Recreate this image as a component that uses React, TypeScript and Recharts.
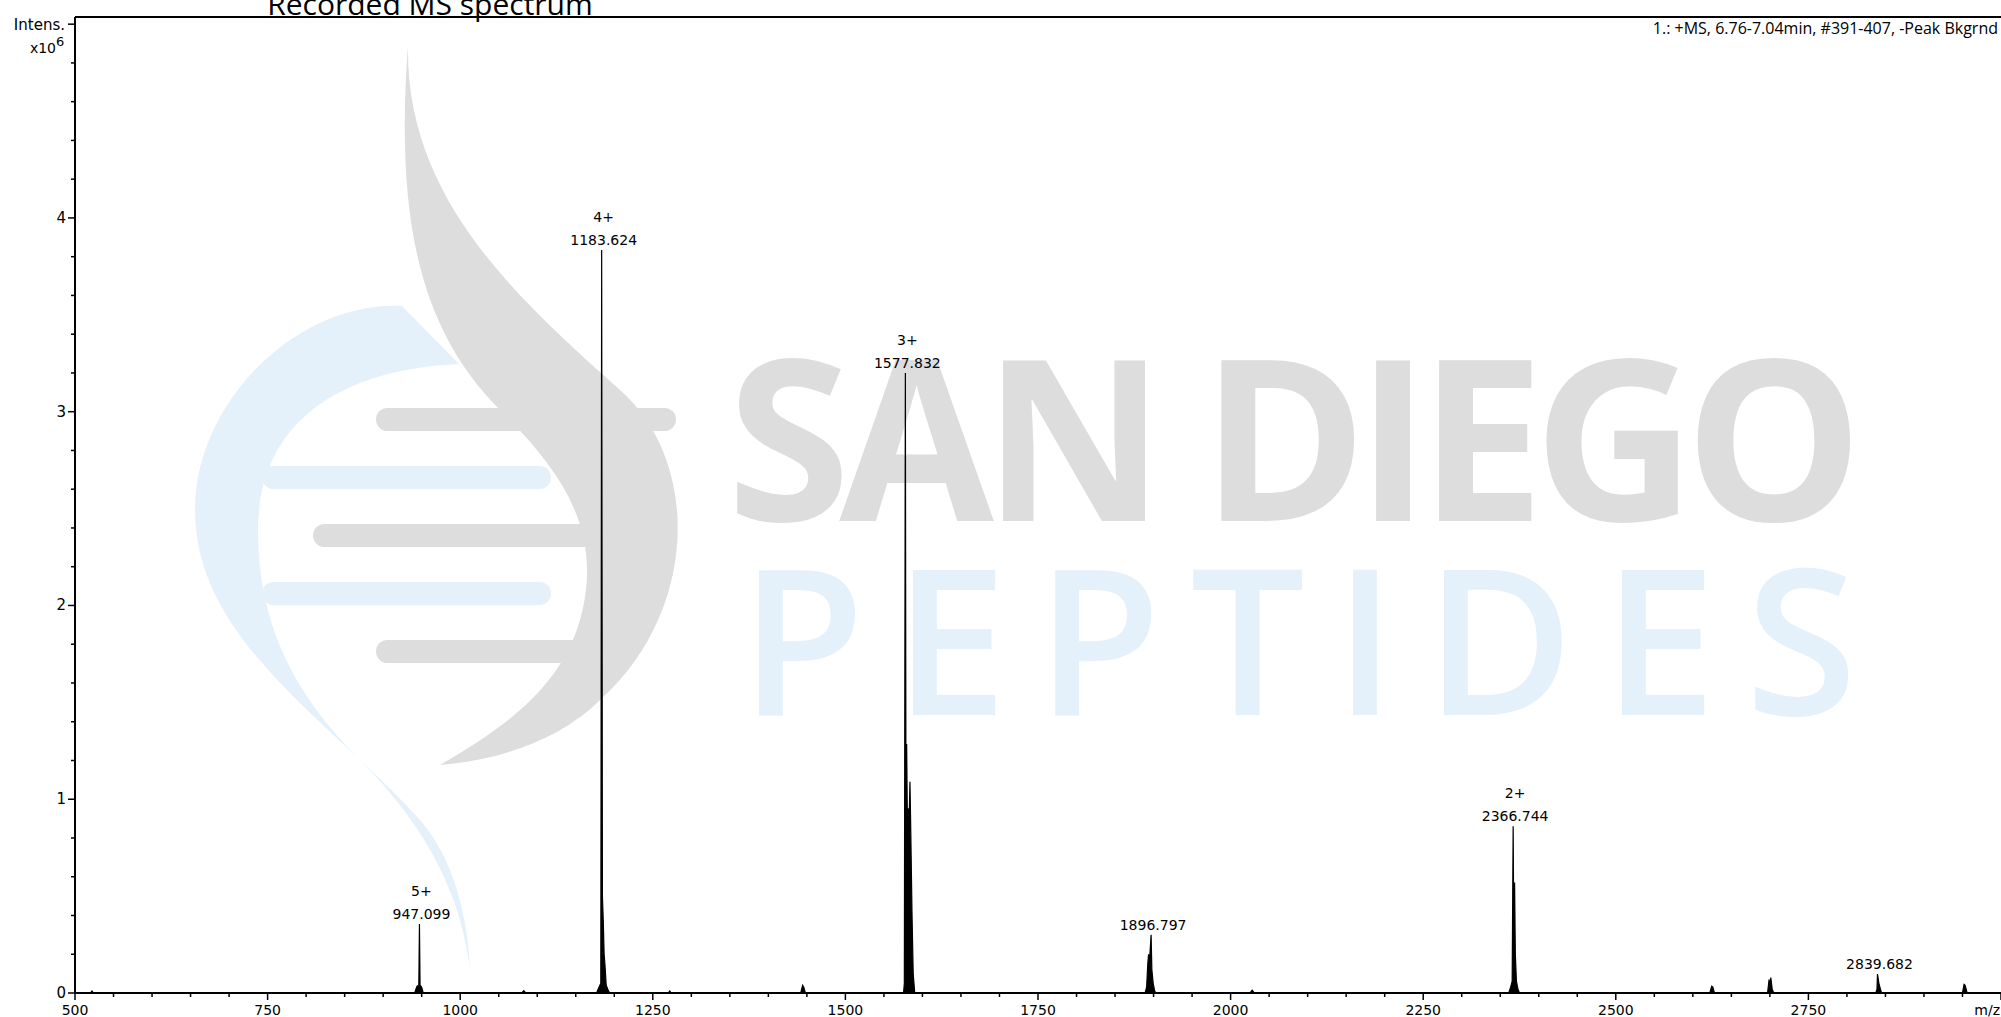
import { ComposedChart, Area, Scatter, XAxis, YAxis, ReferenceLine } from "recharts";

const FONT = "'DejaVu Sans', Verdana, sans-serif";
const FONT_UI = "'Open Sans', 'Noto Sans', sans-serif";

const peak522 = [[520, 0], [522, 0.01], [524, 0]];
const peak947 = [[941, 0], [942.5, 0.02], [944, 0.035], [946.3, 0.04], [947.099, 0.356], [947.9, 0.04], [950, 0.03], [952, 0]];
const peak1083 = [[1080, 0], [1082.5, 0.012], [1085, 0]];
const peak1183 = [[1177, 0], [1179, 0.02], [1182.5, 0.05], [1183.624, 3.835], [1184.6, 0.5], [1185.8, 0.36], [1186.8, 0.2], [1187.9, 0.145], [1189.5, 0.04], [1192, 0.015], [1194, 0]];
const peak1272 = [[1270, 0], [1272, 0.01], [1274, 0]];
const peak1445 = [[1442, 0], [1444.5, 0.04], [1446, 0.03], [1448, 0]];
const peak1577 = [[1575.5, 0], [1576.5, 0.05], [1577.832, 3.2], [1578.6, 1.0], [1579.5, 1.285], [1580.3, 0.95], [1581.5, 0.95], [1582.8, 0.9], [1583.8, 1.09], [1584.8, 0.85], [1586.5, 0.4], [1588, 0.1], [1590, 0]];
const peak1896 = [[1889, 0], [1891, 0.03], [1892.5, 0.15], [1893.5, 0.2], [1894.8, 0.17], [1896.797, 0.3], [1897.8, 0.12], [1899.5, 0.05], [1901.5, 0.01], [1903, 0]];
const peak2028 = [[2025, 0], [2028, 0.015], [2031, 0]];
const peak2366 = [[2361, 0], [2363.5, 0.03], [2365.5, 0.06], [2366.744, 0.86], [2367.6, 0.3], [2368.6, 0.57], [2369.6, 0.2], [2371, 0.06], [2373, 0.02], [2375, 0]];
const peak2625 = [[2622, 0], [2624.5, 0.035], [2626, 0.03], [2628, 0]];
const peak2700 = [[2697, 0], [2699, 0.07], [2700, 0.03], [2701.2, 0.08], [2703, 0.02], [2705, 0]];
const peak2839 = [[2837.5, 0], [2839, 0.02], [2839.682, 0.098], [2841.5, 0.05], [2843.5, 0.02], [2845, 0]];
const peak2953 = [[2950, 0], [2952, 0.045], [2953.5, 0.04], [2956, 0]];

const clusters = [peak522, peak947, peak1083, peak1183, peak1272, peak1445, peak1577, peak1896, peak2028, peak2366, peak2625, peak2700, peak2839, peak2953];

// annotated peaks
const labelMz = [947.099, 1183.624, 1577.832, 1896.797, 2366.744, 2839.682];
const labelIntensity = [0.356, 3.835, 3.2, 0.3, 0.86, 0.098];
const labelCharge = ["5+", "4+", "3+", "", "2+", ""];

const xMajorTicks = [500, 750, 1000, 1250, 1500, 1750, 2000, 2250, 2500, 2750, 3000];
const yMajorLabels = [0, 1, 2, 3, 4];
const Y_TOP = 5.037;

const spectrum = [[500, 0], ...clusters.flat(), [3000, 0]].map(([mz, i]) => ({ mz, i }));
const peakLabels = labelMz.map((mz, k) => ({
    mz,
    i: labelIntensity[k],
    charge: labelCharge[k],
    text: mz.toFixed(3),
}));

const xTicks: number[] = [];
for (let v = 500; v <= 3000; v += 50) xTicks.push(v);
const yTicks: number[] = [];
for (let k = 0; k <= 25; k++) yTicks.push(Math.round(k * 2) / 10);

function XTick(props: any) {
    const { x, y, payload } = props;
    const v = payload.value;
    const major = xMajorTicks.includes(v);
    const last = v === 3000;
    return (
        <g>
            <line x1={x} x2={x} y1={y} y2={y + (major ? 7 : 4)} stroke="#000" strokeWidth={1.5} />
            {major && (
                <text
                    x={last ? x - 1 : x}
                    y={y + 22}
                    textAnchor={last ? "end" : "middle"}
                    fontFamily={FONT}
                    fontSize={14}
                    fill="#000"
                >
                    {last ? "m/z" : v}
                </text>
            )}
        </g>
    );
}

function YTick(props: any) {
    const { x, y, payload } = props;
    const v = payload.value;
    const major = Number.isInteger(v);
    return (
        <g>
            <line x1={x - (major ? 7 : 4)} x2={x} y1={y} y2={y} stroke="#000" strokeWidth={1.5} />
            {yMajorLabels.includes(v) && (
                <text x={x - 9} y={y + 5} textAnchor="end" fontFamily={FONT} fontSize={15} fill="#000">
                    {v}
                </text>
            )}
        </g>
    );
}

function PeakLabel(props: any) {
    const { cx, cy, payload } = props;
    return (
        <g fontFamily={FONT} fontSize={14} fill="#000" textAnchor="middle">
            {payload.charge && (
                <text x={cx + 2} y={cy - 28}>
                    {payload.charge}
                </text>
            )}
            <text x={cx + 2} y={cy - 5}>
                {payload.text}
            </text>
        </g>
    );
}

function Watermark() {
    return (
        <svg width={2001} height={1017} style={{ position: "absolute", left: 0, top: 0 }}>
            {/* helix */}
            <path
                d="M402,306 C300,300 195,400 195,510 C195,640 330,720 420,820 C455,860 468,920 470,970 C462,900 430,830 360,760 C290,690 258,620 258,530 C258,430 330,370 459,364 Z"
                fill="#e5f1fa"
            />
            <path
                d="M408,45 C405,200 520,300 620,390 C700,460 700,610 600,700 C560,740 500,760 440,765 C500,730 560,690 580,620 C605,530 560,470 500,410 C420,330 395,220 408,45 Z"
                fill="#dddddd"
            />
            <rect x={376} y={408} width={300} height={23} rx={11.5} fill="#dddddd" />
            <rect x={313} y={524} width={351} height={23} rx={11.5} fill="#dddddd" />
            <rect x={376} y={640} width={262} height={23} rx={11.5} fill="#dddddd" />
            <rect x={262} y={466} width={289} height={23} rx={11.5} fill="#e5f1fa" />
            <rect x={262} y={582} width={289} height={23} rx={11.5} fill="#e5f1fa" />
            <text
                x={727}
                y={521}
                fontFamily={FONT_UI}
                fontWeight={700}
                fontSize={224}
                textLength={1136}
                lengthAdjust="spacing"
                fill="#dddddd"
            >
                SAN DIEGO
            </text>
            <text
                x={740}
                y={715}
                fontFamily={FONT_UI}
                fontWeight={600}
                fontSize={203}
                textLength={1117}
                lengthAdjust="spacing"
                fill="#e5f1fa"
            >
                PEPTIDES
            </text>

            {/* captions */}
            <text x={430} y={15} textAnchor="middle" fontFamily={FONT_UI} fontSize={30} fill="#000">
                Recorded MS spectrum
            </text>
            <text x={1998} y={34} textAnchor="end" fontFamily={FONT_UI} fontSize={16} fill="#000">
                1.: +MS, 6.76-7.04min, #391-407, -Peak Bkgrnd
            </text>
            <text x={65} y={30} textAnchor="end" fontFamily={FONT} fontSize={15} fill="#000">
                Intens.
            </text>
            <text x={56} y={53} textAnchor="end" fontFamily={FONT} fontSize={14} fill="#000">
                x10
            </text>
            <text x={56} y={46} fontFamily={FONT} fontSize={13} fill="#000">
                6
            </text>
        </svg>
    );
}

export default function App() {
    return (
        <div style={{ position: "absolute", left: 0, top: 0, width: 2001, height: 1017, background: "#fff" }}>
            <Watermark />
            <div style={{ position: "absolute", left: 0, top: 0 }}>
                <ComposedChart
                    width={2001}
                    height={1017}
                    data={spectrum}
                    margin={{ top: 17, right: 0, bottom: 0, left: 0 }}
                >
                    <XAxis
                        dataKey="mz"
                        type="number"
                        domain={[500, 3000]}
                        ticks={xTicks}
                        interval={0}
                        allowDataOverflow
                        height={24}
                        tickSize={0}
                        tickMargin={0}
                        tickLine={false}
                        axisLine={{ stroke: "#000", strokeWidth: 2 }}
                        tick={<XTick />}
                    />
                    <YAxis
                        type="number"
                        domain={[0, Y_TOP]}
                        ticks={yTicks}
                        interval={0}
                        allowDataOverflow
                        width={75}
                        tickSize={0}
                        tickMargin={0}
                        tickLine={false}
                        axisLine={{ stroke: "#000", strokeWidth: 2 }}
                        tick={<YTick />}
                    />
                    <ReferenceLine y={Y_TOP} stroke="#000" strokeWidth={2} />
                    <Area
                        type="linear"
                        dataKey="i"
                        stroke="#000"
                        strokeWidth={1.2}
                        fill="#000"
                        fillOpacity={1}
                        baseValue={0}
                        dot={false}
                        activeDot={false}
                        isAnimationActive={false}
                    />
                    <Scatter data={peakLabels} dataKey="i" shape={<PeakLabel />} isAnimationActive={false} />
                </ComposedChart>
            </div>
        </div>
    );
}
